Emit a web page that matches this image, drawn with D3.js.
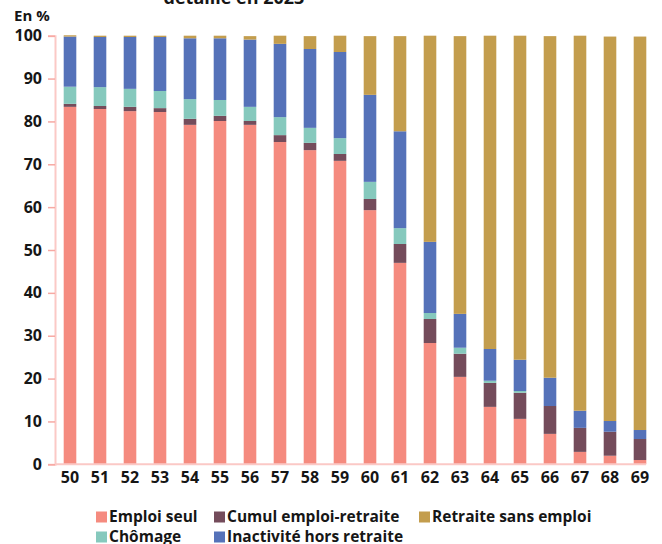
<!DOCTYPE html>
<html>
<head>
<meta charset="utf-8">
<script src="https://cdn.jsdelivr.net/npm/d3@7"></script>
<style>
  body { margin: 0; background: #fff; }
  text { font-family: "Open Sans", sans-serif; fill: #161616; }
</style>
</head>
<body>
<div id="chart"></div>
<script>
// ages (x categories)
const ages = ["50","51","52","53","54","55","56","57","58","59","60","61","62","63","64","65","66","67","68","69"]

// shares in % (bottom to top)
const emploiSeul = [83.4, 82.9, 82.4, 82.2, 79.2, 80.1, 79.2, 75.2, 73.3, 70.8, 59.3, 47.0, 28.3, 20.4, 13.4, 10.6, 7.1, 2.9, 2.0, 1.0]
const cumul      = [0.7, 0.7, 1.0, 0.9, 1.4, 1.2, 0.9, 1.6, 1.7, 1.6, 2.6, 4.4, 5.6, 5.4, 5.6, 6.1, 6.5, 5.6, 5.6, 4.9]
const chomage    = [4.0, 4.4, 4.2, 4.0, 4.6, 3.7, 3.3, 4.2, 3.5, 3.7, 4.0, 3.7, 1.4, 1.4, 0.5, 0.4, 0.0, 0.0, 0.0, 0.0]
const inactivite = [11.7, 11.7, 12.1, 12.6, 14.2, 14.4, 15.7, 17.1, 18.4, 20.1, 20.3, 22.6, 16.6, 7.9, 7.4, 7.3, 6.6, 4.0, 2.5, 2.1]
const retraite   = [0.3, 0.3, 0.3, 0.3, 0.6, 0.6, 0.8, 1.9, 3.0, 3.8, 13.7, 22.2, 48.1, 64.8, 73.1, 75.6, 79.7, 87.5, 89.7, 91.8]

const yTicks = [0, 10, 20, 30, 40, 50, 60, 70, 80, 90, 100]

const series = [
  {key: "emploi", name: "Emploi seul", color: "#f58b7f", values: emploiSeul},
  {key: "cumul", name: "Cumul emploi-retraite", color: "#744c5b", values: cumul},
  {key: "chomage", name: "Chômage", color: "#86c9bd", values: chomage},
  {key: "inact", name: "Inactivité hors retraite", color: "#5572b9", values: inactivite},
  {key: "retraite", name: "Retraite sans emploi", color: "#c39d4d", values: retraite}
]

// build table for d3.stack
const table = ages.map((a, i) => {
  let row = {age: a}
  series.forEach(s => row[s.key] = s.values[i])
  return row
})

const width = 662, height = 544

const svg = d3.select("#chart")
  .append("svg")
    .attr("width", width)
    .attr("height", height)

const x = d3.scaleBand()
  .domain(ages)
  .range([55, 655])
  .paddingInner(0.58)
  .paddingOuter(0.29)

const y = d3.scaleLinear()
  .domain([0, 100])
  .range([464.3, 35.7])

const stacked = d3.stack().keys(series.map(s => s.key))(table)

// bars
svg.append("g")
  .selectAll("g")
  .data(stacked)
  .enter()
  .append("g")
    .attr("fill", (d, i) => series[i].color)
  .selectAll("rect")
  .data(d => d)
  .enter()
  .append("rect")
    .attr("x", d => x(d.data.age))
    .attr("width", x.bandwidth())
    .attr("y", d => y(d[1]))
    .attr("height", d => Math.max(0, y(d[0]) - y(d[1])))

// y axis
const yAxis = svg.append("g")
  .attr("transform", "translate(55,0)")
  .call(d3.axisLeft(y).tickValues(yTicks).tickSize(7).tickPadding(6))
yAxis.select(".domain").attr("stroke", "#fbc9c6").attr("stroke-width", 2)
yAxis.selectAll(".tick line").attr("stroke", "#f7a9a3").attr("stroke-width", 1.5)
yAxis.selectAll(".tick text")
  .style("font-family", "'Open Sans', sans-serif")
  .style("font-size", "16px")
  .style("font-weight", "700")
  .attr("fill", "#161616")

// x axis
const xAxis = svg.append("g")
  .attr("transform", "translate(0,464.3)")
  .call(d3.axisBottom(x).tickSize(0).tickPadding(7))
xAxis.select(".domain")
  .attr("d", "M55,0H646")
  .attr("stroke", "#fbc9c6").attr("stroke-width", 2)
xAxis.selectAll(".tick text")
  .style("font-family", "'Open Sans', sans-serif")
  .style("font-size", "16px")
  .style("font-weight", "700")
  .attr("fill", "#161616")

// unit label
svg.append("text")
  .attr("x", 14)
  .attr("y", 21)
  .style("font-size", "15px")
  .style("font-weight", "700")
  .text("En %")

// title, cut by the top of the picture
svg.append("text")
  .attr("x", 234)
  .attr("y", 4)
  .attr("text-anchor", "middle")
  .style("font-size", "18px")
  .style("font-weight", "700")
  .text("détaillé en 2023")

// legend: two rows
const legendPos = [
  {x: 96, y: 517}, {x: 214, y: 517}, {x: 96, y: 537}, {x: 214, y: 537}, {x: 419, y: 517}
]
const legend = svg.append("g")
  .selectAll("g")
  .data(series)
  .enter()
  .append("g")
    .attr("transform", (d, i) => "translate(" + legendPos[i].x + "," + legendPos[i].y + ")")
legend.append("rect")
  .attr("x", 0).attr("y", -5.5)
  .attr("width", 11).attr("height", 11)
  .attr("fill", d => d.color)
legend.append("text")
  .attr("x", 13)
  .attr("y", 0)
  .attr("dy", "0.35em")
  .style("font-size", "15.5px")
  .style("font-weight", "700")
  .text(d => d.name)
</script>
</body>
</html>
